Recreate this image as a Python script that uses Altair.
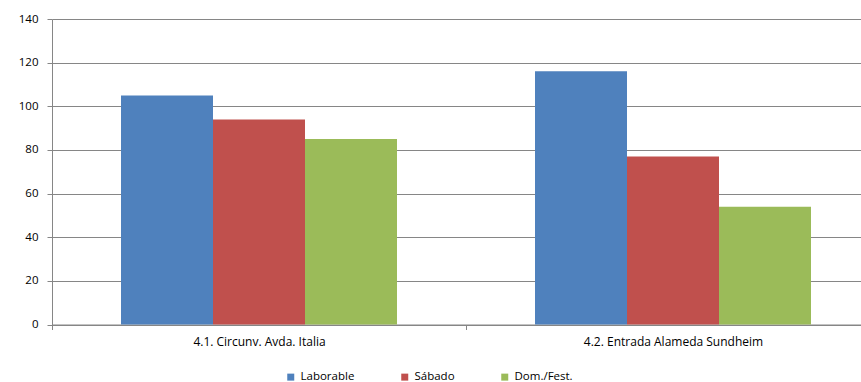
import altair as alt
import pandas as pd

# Categories, series and values
puntos = ["4.1. Circunv. Avda. Italia", "4.2. Entrada Alameda Sundheim"]
tipos_dia = ["Laborable", "Sábado", "Dom./Fest."]
laborable = [105, 116]
sabado = [94, 77]
dom_fest = [85, 54]
colores = ["#4F81BD", "#C0504D", "#9BBB59"]
y_ticks = [0, 20, 40, 60, 80, 100, 120, 140]

rows = []
for i, punto in enumerate(puntos):
    for tipo, valores in zip(tipos_dia, [laborable, sabado, dom_fest]):
        rows.append({"punto": punto, "tipo": tipo, "valor": valores[i]})
df = pd.DataFrame(rows)

FONT = "Open Sans"
GRID = "#868686"

chart = (
    alt.Chart(df)
    .mark_bar()
    .encode(
        x=alt.X(
            "punto:N",
            sort=puntos,
            title=None,
            scale=alt.Scale(range=[0, 828], paddingInner=0, paddingOuter=0),
            axis=alt.Axis(
                labelAngle=0,
                tickBand="extent",
                domainColor=GRID,
                tickColor=GRID,
                tickSize=5,
                labelPadding=7,
                labelFont=FONT,
                labelFontSize=12,
                labelColor="#000000",
                grid=False,
            ),
        ),
        xOffset=alt.XOffset(
            "tipo:N",
            sort=tipos_dia,
            scale=alt.Scale(paddingInner=0, paddingOuter=0.75),
        ),
        y=alt.Y(
            "valor:Q",
            title=None,
            scale=alt.Scale(domain=[0, 140], nice=False),
            axis=alt.Axis(
                values=y_ticks,
                grid=True,
                gridColor=GRID,
                domainColor=GRID,
                tickColor=GRID,
                tickSize=5,
                labelPadding=9,
                labelFont=FONT,
                labelFontSize=11.5,
                labelColor="#000000",
            ),
        ),
        color=alt.Color(
            "tipo:N",
            sort=tipos_dia,
            scale=alt.Scale(domain=tipos_dia, range=colores),
            legend=alt.Legend(
                title=None,
                orient="none",
                legendX=233,
                legendY=352,
                direction="horizontal",
                symbolType="square",
                symbolSize=49,
                symbolStrokeWidth=0,
                labelFont=FONT,
                labelFontSize=11.5,
                labelColor="#000000",
                labelOffset=4,
                columnPadding=44,
            ),
        ),
    )
    .properties(
        width=809,
        height=305.5,
        autosize="none",
        padding={"left": 52, "top": 19, "right": 0, "bottom": 57.5},
        background="white",
    )
    .configure_view(stroke=None)
)

chart.save("out.html", embed_options={"renderer": "svg", "actions": False})
